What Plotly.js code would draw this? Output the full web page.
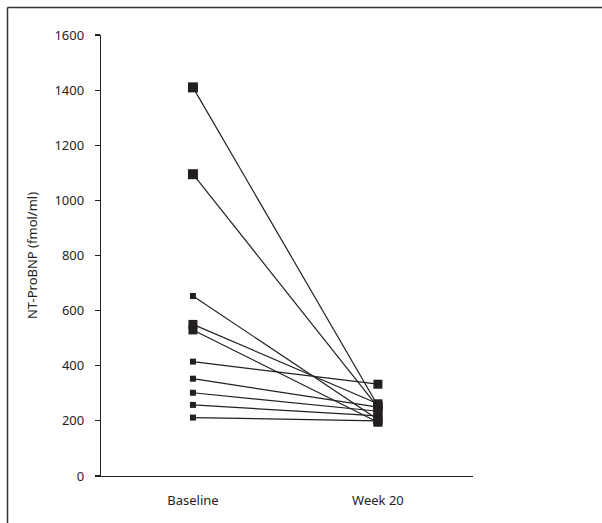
<!DOCTYPE html>
<html>
<head>
<meta charset="utf-8">
<script src="https://cdn.plot.ly/plotly-3.0.1.min.js"></script>
<style>html,body{margin:0;padding:0;background:#fff;}#chart{width:602px;height:523px;}</style>
</head>
<body>
<div id="chart"></div>
<script>
var timepoints = ["Baseline", "Week 20"];
var baseline = [1410, 1095, 653, 550, 530, 415, 353, 302, 258, 212];
var week20   = [255, 250, 205, 262, 195, 333, 250, 235, 218, 200];
var baselineSize = [10, 10, 6, 9, 9, 6, 6, 6, 6, 6];
var week20Size = 9;

var ink = "#231f20";
var traces = baseline.map(function (b, i) {
  return {
    type: "scatter",
    mode: "lines+markers",
    x: [0, 1],
    y: [b, week20[i]],
    line: {color: ink, width: 1.2},
    marker: {symbol: "square", color: ink, opacity: 1, line: {width: 0},
             size: [baselineSize[i], week20Size]},
    hoverinfo: "skip",
    showlegend: false
  };
});

var L = 101, R = 473, T = 35, B = 476, W = 602, H = 523;
function px(x) { return (x - L) / (R - L); }
function py(y) { return (B - y) / (B - T); }

var layout = {
  width: W, height: H,
  margin: {l: L, r: W - R, t: T, b: H - B},
  paper_bgcolor: "#fff", plot_bgcolor: "#fff",
  font: {family: "Noto Sans, sans-serif", size: 13, color: ink},
  showlegend: false,
  xaxis: {
    range: [-0.497, 1.514],
    tickmode: "array", tickvals: [0, 1], ticktext: timepoints,
    ticks: "", showgrid: false, zeroline: false,
    showline: true, linecolor: ink, linewidth: 1.2,
    ticklabelstandoff: 12,
    tickfont: {size: 13, color: ink}
  },
  yaxis: {
    range: [0, 1600], dtick: 200,
    ticks: "outside", ticklen: 5, tickcolor: ink, tickwidth: 1.2,
    showgrid: false, zeroline: false,
    showline: true, linecolor: ink, linewidth: 1.2,
    ticklabelstandoff: 8,
    tickfont: {size: 13, color: ink},
    title: {text: "NT-ProBNP (fmol/ml)", font: {size: 13, color: ink}, standoff: 14}
  },
  shapes: [
    {type: "line", xref: "paper", yref: "paper", x0: px(7.5), x1: px(602), y0: py(7.5), y1: py(7.5), line: {color: "#333", width: 1.5}},
    {type: "line", xref: "paper", yref: "paper", x0: px(7.5), x1: px(7.5), y0: py(7.5), y1: py(523), line: {color: "#333", width: 1.5}}
  ]
};

Plotly.newPlot("chart", traces, layout, {staticPlot: true, displayModeBar: false});
</script>
</body>
</html>
